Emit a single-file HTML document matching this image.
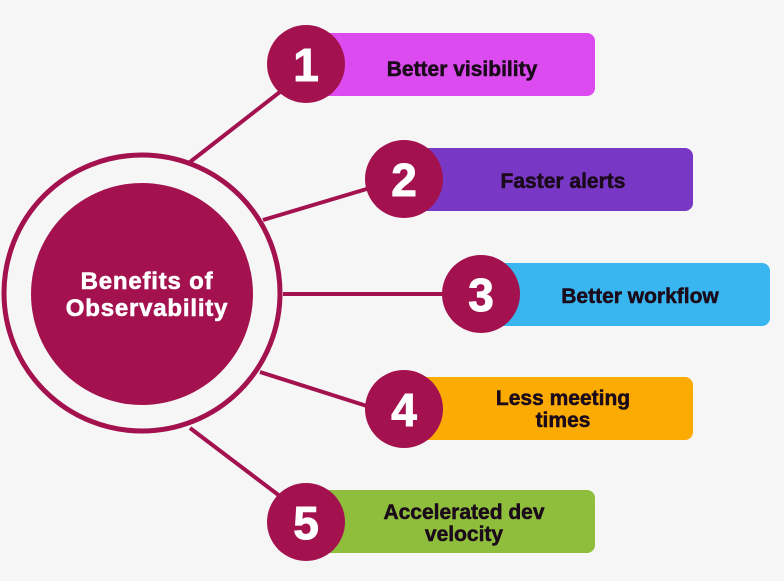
<!DOCTYPE html>
<html><head><meta charset="utf-8"><style>
html,body{margin:0;padding:0;background:#f6f6f6;}
svg{display:block}
text{font-family:"Liberation Sans",sans-serif;font-weight:bold;}
</style></head><body>
<svg width="784" height="581" viewBox="0 0 784 581">
<rect width="784" height="581" fill="#f6f6f6"/>
<g stroke="#a3124f" stroke-width="4" fill="none">
<line x1="190" y1="162" x2="285" y2="88"/>
<line x1="263" y1="220" x2="370" y2="188"/>
<line x1="283" y1="294" x2="445" y2="294"/>
<line x1="260" y1="372" x2="370" y2="407"/>
<line x1="190" y1="428" x2="285" y2="500"/>
<circle cx="142" cy="293" r="138" stroke-width="5"/>
</g>
<circle cx="142" cy="294" r="111" fill="#a3124f"/>
<g fill="#fff" stroke="#fff" stroke-width="0.6" font-size="24" letter-spacing="0.8" text-anchor="middle">
<text x="147" y="289">Benefits of</text>
<text x="147" y="316">Observability</text>
</g>

<rect x="320" y="33" width="275" height="63" rx="8" fill="#dc4bef"/>
<rect x="415" y="148" width="278" height="63" rx="8" fill="#7838c5"/>
<rect x="495" y="263" width="275" height="63" rx="8" fill="#39b6ef"/>
<rect x="415" y="377" width="278" height="63" rx="8" fill="#fcab02"/>
<rect x="320" y="490" width="275" height="63" rx="8" fill="#8fbd3c"/>

<g fill="#a3124f">
<circle cx="306" cy="64" r="39"/>
<circle cx="404" cy="179" r="39"/>
<circle cx="481" cy="294" r="39"/>
<circle cx="404" cy="409" r="39"/>
<circle cx="306" cy="522" r="39"/>
</g>
<g fill="#fff" stroke="#fff" stroke-width="1" font-size="46" text-anchor="middle">
<text x="306" y="81">1</text>
<text x="404" y="196">2</text>
<text x="481" y="311">3</text>
<text x="404" y="426">4</text>
<text x="306" y="539">5</text>
</g>
<g fill="#1a0a1a" stroke="#1a0a1a" stroke-width="0.5" font-size="21" text-anchor="middle">
<text x="462" y="76">Better visibility</text>
<text x="563" y="188">Faster alerts</text>
<text x="640" y="303">Better workflow</text>
<text x="563" y="405">Less meeting</text>
<text x="563" y="427">times</text>
<text x="464" y="519">Accelerated dev</text>
<text x="464" y="541">velocity</text>
</g>
</svg>
</body></html>
